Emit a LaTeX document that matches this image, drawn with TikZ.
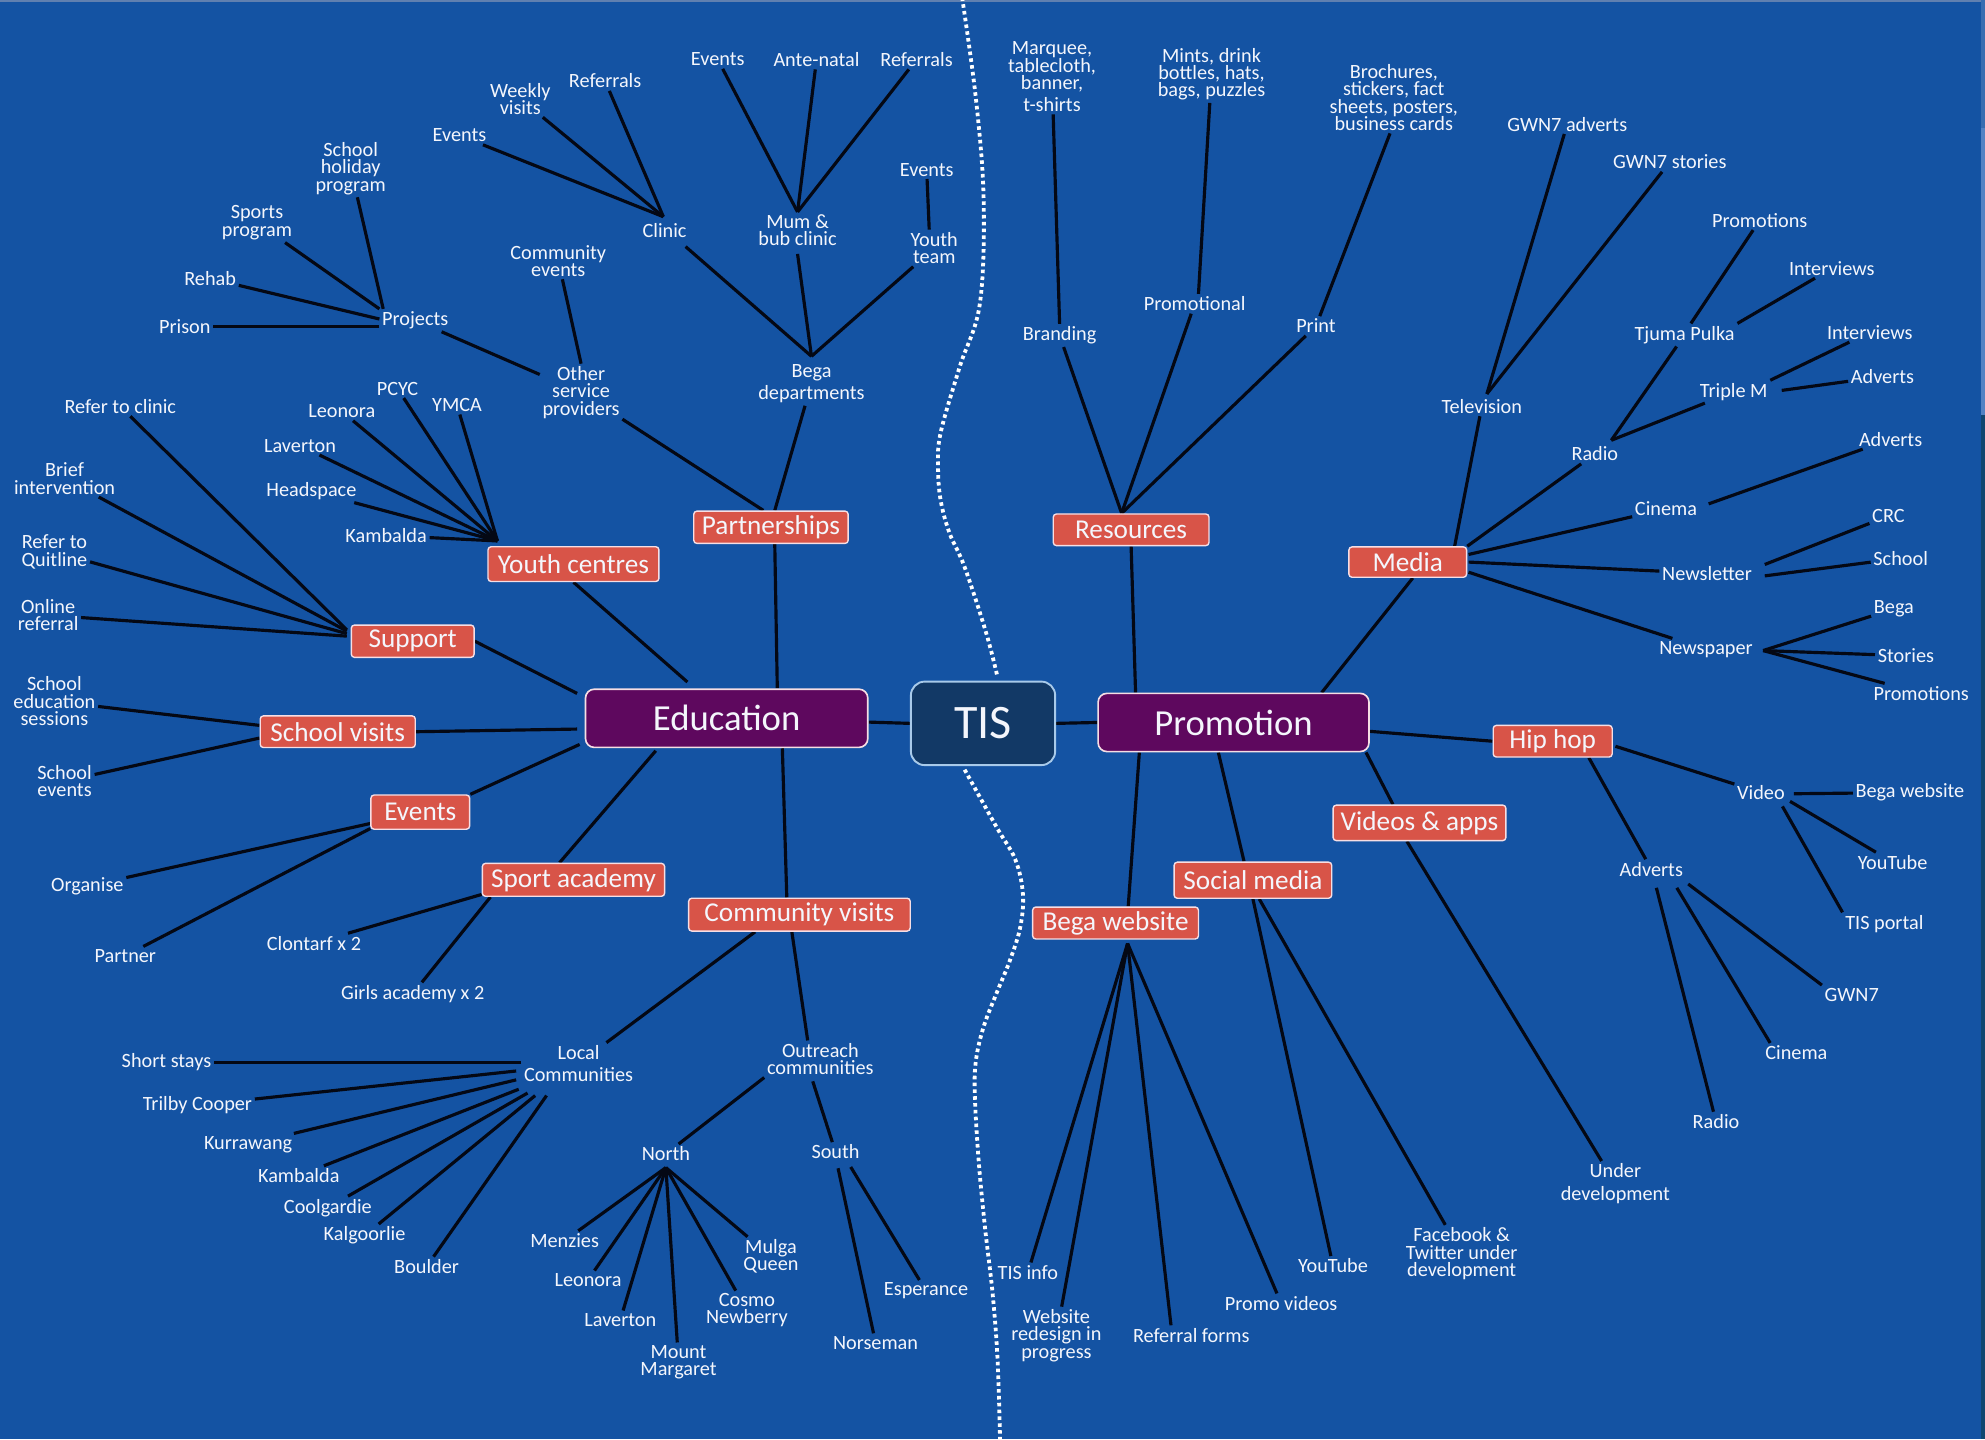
\documentclass[tikz,border=0pt]{standalone}
\usepackage{fontspec}
\setmainfont{Carlito}
\pgfdeclarelayer{back}
\pgfdeclarelayer{links}
\pgfsetlayers{back,links,main}
\definecolor{bgblue}{RGB}{20,83,163}
\definecolor{boxred}{RGB}{216,84,72}
\definecolor{boxpurple}{RGB}{94,8,94}
\definecolor{tisnavy}{RGB}{18,57,102}
\definecolor{boxedge}{RGB}{246,222,228}
\definecolor{tisedge}{RGB}{168,202,234}
\definecolor{linkcol}{RGB}{4,8,20}
\definecolor{txtwhite}{RGB}{244,246,252}
\definecolor{topline}{RGB}{96,128,176}
\definecolor{stripdark}{RGB}{16,70,112}
\definecolor{striplight}{RGB}{82,130,196}
\tikzset{
  lbl/.style={text=txtwhite, font=\fontsize{16}{13.7}\selectfont, align=center, inner sep=2pt},
  rbox/.style={fill=boxred, draw=boxedge, line width=1.1pt, rounded corners=2.5pt, text=txtwhite, font=\fontsize{21.5}{23}\selectfont, inner sep=0pt},
  pbox/.style={fill=boxpurple, draw=boxedge, line width=1.3pt, rounded corners=7pt, text=txtwhite, font=\fontsize{29}{31}\selectfont, inner sep=0pt, minimum height=46pt},
  tbox/.style={fill=tisnavy, draw=tisedge, line width=1.5pt, rounded corners=11pt, text=txtwhite, font=\fontsize{38}{40}\selectfont, inner sep=0pt, minimum width=114pt, minimum height=66pt},
  link/.style={draw=linkcol, line width=2.5pt},
  divider/.style={draw=white, line width=3pt, dash pattern=on 2.8pt off 2.6pt}
}
\begin{document}
\begin{tikzpicture}[x=1pt,y=-1pt]
\useasboundingbox (0,0) rectangle (1568,1137);
\begin{pgfonlayer}{back}
  \fill[bgblue] (0,0) rectangle (1568,1137);
  \fill[topline] (0,0) rectangle (1568,1.4);
  \fill[stripdark] (1564.8,0) rectangle (1568,1137);
  \fill[bgblue!85!white] (1564.8,0) rectangle (1568,101);
  \fill[striplight] (1564.8,101) rectangle (1568,328);
  \draw[divider] plot[smooth, tension=0.6] coordinates {(760,-2) (771,79) (777,158) (774,240) (758,290) (743,342) (741,369) (743,395) (750,421) (762,448) (779,500) (788,535)};
  \draw[divider] plot[smooth, tension=0.6] coordinates {(762,608) (787,653) (802,679) (808,706) (806,732) (798,758) (787,785) (777,811) (771,837) (770,864) (773,916) (778,969) (784,1021) (788,1074) (790,1139)};
\end{pgfonlayer}

% ---------- central boxes
\node[tbox] (tis) at (776.5,571.4) {TIS};
\node[pbox, minimum width=223pt] (edu) at (574,567.4) {Education};
\node[pbox, minimum width=214pt] (promo) at (974.4,570.7) {Promotion};

% ---------- red boxes
\node[rbox, minimum width=122pt, minimum height=25.5pt] (part) at (609,416.5) {Partnerships};
\node[rbox, minimum width=135pt, minimum height=27.5pt] (youth) at (453,445.6) {Youth centres};
\node[rbox, minimum width=97pt, minimum height=25.5pt] (support) at (326,506.5) {Support};
\node[rbox, minimum width=122.5pt, minimum height=25pt] (school) at (266.8,578) {School visits};
\node[rbox, minimum width=78pt, minimum height=27pt] (events) at (332,641.5) {Events};
\node[rbox, minimum width=144pt, minimum height=26pt] (sport) at (453,695) {Sport academy};
\node[rbox, minimum width=175pt, minimum height=26pt] (comm) at (631.5,722.5) {Community visits};
\node[rbox, minimum width=123pt, minimum height=25pt] (res) at (893.5,418.5) {Resources};
\node[rbox, minimum width=93pt, minimum height=24pt] (media) at (1112,444) {Media};
\node[rbox, minimum width=94pt, minimum height=25pt] (hiphop) at (1226.5,585.5) {Hip hop};
\node[rbox, minimum width=136.5pt, minimum height=28pt] (videos) at (1121.3,650) {Videos \& apps};
\node[rbox, minimum width=124.5pt, minimum height=28.5pt] (social) at (989.7,695.3) {Social media};
\node[rbox, minimum width=131pt, minimum height=25.2pt] (bega) at (881.2,729.1) {Bega website};

% ---------- Partnerships branch
\node[lbl] (mbEvents) at (567,47) {Events};
\node[lbl] (mbAnte) at (645,47) {Ante-natal};
\node[lbl] (mbRef) at (724,47) {Referrals};
\node[lbl] (mumbub) at (630,182) {Mum \&\\bub clinic};
\node[lbl] (ytEvents) at (732,134) {Events};
\node[lbl] (yteam) at (738,196) {Youth\\team};
\node[lbl] (begadep) at (641,303) {Bega\\[3pt]departments};
\node[lbl] (clinic) at (525,182) {Clinic};
\node[lbl] (clEvents) at (363,107) {Events};
\node[lbl] (weekly) at (411,78) {Weekly\\visits};
\node[lbl] (clRef) at (478,64) {Referrals};
\node[lbl] (commev) at (441,206) {Community\\events};
\node[lbl] (osp) at (459,310) {Other\\service\\providers};
\node[lbl] (projects) at (328,253) {Projects};
\node[lbl] (shp) at (277,133) {School\\holiday\\program};
\node[lbl] (sportsprog) at (203,176) {Sports\\program};
\node[lbl] (rehab) at (166,220) {Rehab};
\node[lbl] (prison) at (146,258) {Prison};

% ---------- Youth centres branch
\node[lbl] (ymca) at (361,320) {YMCA};
\node[lbl] (pcyc) at (314,307) {PCYC};
\node[lbl] (ycLeonora) at (270,325) {Leonora};
\node[lbl] (ycLaverton) at (237,352) {Laverton};
\node[lbl] (headspace) at (246,388) {Headspace};
\node[lbl] (ycKambalda) at (305,423) {Kambalda};

% ---------- Support / school / events / sport
\node[lbl] (referclinic) at (95,321) {Refer to clinic};
\node[lbl] (brief) at (51,378) {Brief\\intervention};
\node[lbl] (quitline) at (43,436) {Refer to\\Quitline};
\node[lbl] (online) at (38,486) {Online\\referral};
\node[lbl] (schooled) at (43,554) {School\\education\\sessions};
\node[lbl] (schoolev) at (51,617) {School\\events};
\node[lbl] (organise) at (69,700) {Organise};
\node[lbl] (partner) at (99,755) {Partner};
\node[lbl] (clontarf) at (248,745) {Clontarf x 2};
\node[lbl] (girls) at (326,785) {Girls academy x 2};

% ---------- Community visits branch
\node[lbl] (local) at (457,840) {Local\\[3.5pt]Communities};
\node[lbl] (outreach) at (648,836.5) {Outreach\\communities};
\node[lbl] (shortstays) at (131.5,839) {Short stays};
\node[lbl] (trilby) at (156,873) {Trilby Cooper};
\node[lbl] (kurrawang) at (196,904) {Kurrawang};
\node[lbl] (lcKambalda) at (236,928.7) {Kambalda};
\node[lbl] (coolgardie) at (259,954) {Coolgardie};
\node[lbl] (kalgoorlie) at (288,976) {Kalgoorlie};
\node[lbl] (boulder) at (337,1000.5) {Boulder};
\node[lbl] (north) at (526,911.5) {North};
\node[lbl] (south) at (660,910) {South};
\node[lbl] (menzies) at (446,980) {Menzies};
\node[lbl] (nLeonora) at (464.5,1011) {Leonora};
\node[lbl] (nLaverton) at (490,1042.6) {Laverton};
\node[lbl] (mountm) at (536,1076) {Mount\\Margaret};
\node[lbl] (cosmo) at (590,1035) {Cosmo\\Newberry};
\node[lbl] (mulga) at (609,992.6) {Mulga\\Queen};
\node[lbl] (esperance) at (731.5,1019.7) {Esperance};
\node[lbl] (norseman) at (691.6,1060.6) {Norseman};

% ---------- Resources branch
\node[lbl] (branding) at (837,265) {Branding};
\node[lbl] (promotional) at (943.7,240) {Promotional};
\node[lbl] (print) at (1039.5,257.5) {Print};
\node[lbl] (marquee) at (831,60.6) {Marquee,\\tablecloth,\\banner,\\[3.5pt]t-shirts};
\node[lbl] (mints) at (957,58.5) {Mints, drink\\bottles, hats,\\bags, puzzles};
\node[lbl] (brochures) at (1101,77) {Brochures,\\stickers, fact\\sheets, posters,\\business cards};

% ---------- Media branch
\node[lbl] (television) at (1170.5,321) {Television};
\node[lbl] (gwn7adv) at (1238,98) {GWN7 adverts};
\node[lbl] (gwn7st) at (1319,128) {GWN7 stories};
\node[lbl] (radio) at (1259.8,358.6) {Radio};
\node[lbl] (tjuma) at (1330.7,264.6) {Tjuma Pulka};
\node[lbl] (tjPromo) at (1390,174) {Promotions};
\node[lbl] (tjInt) at (1447,212) {Interviews};
\node[lbl] (triplem) at (1369.5,309.4) {Triple M};
\node[lbl] (tmInt) at (1477,262.5) {Interviews};
\node[lbl] (tmAdv) at (1487,297.5) {Adverts};
\node[lbl] (cinema) at (1316,402) {Cinema};
\node[lbl] (cinAdv) at (1493.4,347) {Adverts};
\node[lbl] (newsletter) at (1348.4,452.9) {Newsletter};
\node[lbl] (crc) at (1491.7,407.6) {CRC};
\node[lbl] (nlSchool) at (1501.4,441) {School};
\node[lbl] (newspaper) at (1347.6,512.9) {Newspaper};
\node[lbl] (npBega) at (1496,481) {Bega};
\node[lbl] (npStories) at (1505.5,518) {Stories};
\node[lbl] (npPromo) at (1517.6,547.6) {Promotions};

% ---------- Hip hop branch
\node[lbl] (video) at (1391,626) {Video};
\node[lbl] (vBega) at (1508.7,626) {Bega website};
\node[lbl] (vYoutube) at (1495,681) {YouTube};
\node[lbl] (tisportal) at (1488.5,729.7) {TIS portal};
\node[lbl] (hhAdverts) at (1304.4,686.5) {Adverts};
\node[lbl] (gwn7) at (1462.7,785.6) {GWN7};
\node[lbl] (hhCinema) at (1419,831.6) {Cinema};
\node[lbl] (hhRadio) at (1355.5,886) {Radio};

% ---------- Videos, social, website
\node[lbl] (underdev) at (1276,935) {Under\\[4pt]development};
\node[lbl] (smYoutube) at (1053,1000) {YouTube};
\node[lbl] (facebook) at (1154.6,990.3) {Facebook \&\\Twitter under\\development};
\node[lbl] (tisinfo) at (812,1005) {TIS info};
\node[lbl] (redesign) at (834.5,1055) {Website\\redesign in\\progress};
\node[lbl] (refforms) at (941,1054.7) {Referral forms};
\node[lbl] (promovid) at (1012,1029.5) {Promo videos};

\begin{pgfonlayer}{links}
% central
\draw[link] ([yshift=-3pt]edu.east) -- (tis.west);
\draw[link] (tis.east) -- (promo.west);
% education main branches
\draw[link] ([xshift=40pt]edu.north) -- ([xshift=3pt]part.south);
\draw[link] ([xshift=-31pt,yshift=5pt]edu.north) -- (youth.south);
\draw[link] ([xshift=-6pt,yshift=-4pt]edu.north west) -- (support.east);
\draw[link] ([xshift=-6pt,yshift=-8.5pt]edu.west) -- (school.east);
\draw[link] ([xshift=-4pt,yshift=3pt]edu.south west) -- (events.north east);
\draw[link] ([xshift=-56pt,yshift=-2pt]edu.south) -- ([xshift=-11pt]sport.north);
\draw[link] ([xshift=44pt]edu.south) -- ([xshift=-10pt]comm.north);
% partnerships
\draw[link] ([xshift=3pt]part.north) -- (begadep);
\draw[link] ([xshift=-6pt]part.north) -- (osp);
\draw[link] ([yshift=4pt]begadep.north) -- ([yshift=-4pt]mumbub.south);
\draw[link] ([yshift=4pt]begadep.north) -- ([xshift=-3pt,yshift=-5pt]clinic.south east);
\draw[link] ([yshift=4pt]begadep.north) -- (yteam);
\draw[link] (mumbub.north) -- (mbEvents);
\draw[link] (mumbub.north) -- (mbAnte);
\draw[link] (mumbub.north) -- (mbRef);
\draw[link] ([xshift=-4pt]yteam.north) -- (ytEvents);
\draw[link] ([xshift=-1pt,yshift=3pt]clinic.north) -- (clEvents);
\draw[link] ([xshift=-1pt,yshift=3pt]clinic.north) -- (weekly);
\draw[link] ([xshift=-1pt,yshift=3pt]clinic.north) -- (clRef);
\draw[link] (osp.north) -- (commev);
\draw[link] (osp) -- (projects);
\draw[link] ([xshift=3pt,yshift=9pt]projects.west) -- (shp);
\draw[link] ([yshift=9pt]projects.west) -- (sportsprog);
\draw[link] ([yshift=1pt]projects.west) -- (rehab);
\draw[link] ([yshift=-5pt]projects.west) -- (prison);
% youth centres
\draw[link] ([xshift=8pt,yshift=4pt]youth.north west) -- (ymca);
\draw[link] ([xshift=8pt,yshift=4pt]youth.north west) -- (pcyc);
\draw[link] ([xshift=8pt,yshift=4pt]youth.north west) -- (ycLeonora);
\draw[link] ([xshift=8pt,yshift=4pt]youth.north west) -- (ycLaverton);
\draw[link] ([xshift=8pt,yshift=4pt]youth.north west) -- (headspace);
\draw[link] ([xshift=8pt,yshift=4pt]youth.north west) -- (ycKambalda);
% support
\draw[link] ([xshift=-3pt,yshift=9pt]support.west) -- (referclinic);
\draw[link] ([xshift=-3pt,yshift=8pt]support.west) -- (brief);
\draw[link] ([xshift=-3pt,yshift=6pt]support.west) -- (quitline);
\draw[link] ([xshift=-3pt,yshift=4pt]support.west) -- (online);
% school visits
\draw[link] ([yshift=5pt]school.west) -- (schooled);
\draw[link] ([yshift=-5pt]school.west) -- (schoolev);
% events
\draw[link] ([yshift=-9pt]events.west) -- (organise);
\draw[link] ([yshift=-13pt]events.west) -- (partner);
% sport
\draw[link] ([yshift=2pt]sport.south west) -- (clontarf);
\draw[link] ([xshift=7pt]sport.south west) -- (girls);
% community visits
\draw[link] ([xshift=-35pt]comm.south) -- (local);
\draw[link] ([xshift=-6pt]comm.south) -- ([xshift=-10pt]outreach.north);
\draw[link] ([yshift=1pt]local.west) -- (shortstays);
\draw[link] ([xshift=-4pt,yshift=-6pt]local.west) -- (trilby);
\draw[link] ([xshift=-4pt,yshift=-13pt]local.west) -- (kurrawang);
\draw[link] ([xshift=-2pt,yshift=-4pt]local.south west) -- (lcKambalda);
\draw[link] ([xshift=5pt,yshift=-7pt]local.south west) -- (coolgardie);
\draw[link] ([xshift=11pt,yshift=-9pt]local.south west) -- (kalgoorlie);
\draw[link] ([xshift=20pt,yshift=-9pt]local.south west) -- (boulder);
\draw[link] (outreach.south west) -- (north);
\draw[link] ([xshift=-6pt,yshift=-3pt]outreach.south) -- (south);
\draw[link] ([yshift=-3pt]north.south) -- (menzies);
\draw[link] ([yshift=-3pt]north.south) -- (nLeonora);
\draw[link] ([yshift=-3pt]north.south) -- (nLaverton);
\draw[link] ([yshift=-3pt]north.south) -- (mountm);
\draw[link] ([yshift=-3pt]north.south) -- (cosmo);
\draw[link] ([yshift=-3pt]north.south) -- (mulga);
\draw[link] ([xshift=2pt,yshift=-5pt]south.south) -- (norseman);
\draw[link] ([xshift=12pt,yshift=-4pt]south.south) -- (esperance);
% promotion main branches
\draw[link] ([xshift=-77.4pt]promo.north) -- (res.south);
\draw[link] ([xshift=-38pt]promo.north east) -- ([xshift=4pt]media.south);
\draw[link] ([yshift=-7pt]promo.east) -- (hiphop.west);
\draw[link] ([xshift=-3pt]promo.south east) -- ([xshift=-21pt]videos.north);
\draw[link] ([xshift=-12pt]promo.south) -- ([xshift=-7pt]social.north);
\draw[link] ([xshift=-74.4pt]promo.south) -- ([xshift=10pt]bega.north);
% resources
\draw[link] ([xshift=-7.5pt]res.north) -- (branding);
\draw[link] ([xshift=-7.5pt]res.north) -- (promotional);
\draw[link] ([xshift=-7.5pt]res.north) -- (print);
\draw[link] (branding.north) -- (marquee);
\draw[link] ([xshift=3pt]promotional.north) -- (mints);
\draw[link] ([xshift=3pt]print.north) -- ([xshift=-3pt]brochures.south);
% media
\draw[link] ([xshift=-10pt]media.north east) -- (television);
\draw[link] (media.north east) -- (radio);
\draw[link] ([xshift=1pt,yshift=6pt]media.east) -- (cinema);
\draw[link] ([xshift=1pt]media.east) -- (newsletter);
\draw[link] ([xshift=1pt,yshift=-8pt]media.east) -- (newspaper);
\draw[link] ([xshift=4pt,yshift=2pt]television.north) -- (gwn7adv);
\draw[link] ([xshift=4pt,yshift=2pt]television.north) -- (gwn7st);
\draw[link] ([xshift=13pt,yshift=3pt]radio.north) -- (tjuma);
\draw[link] ([xshift=13pt,yshift=3pt]radio.north) -- (triplem);
\draw[link] ([xshift=5pt]tjuma.north) -- (tjPromo);
\draw[link] (tjuma.north east) -- (tjInt);
\draw[link] (triplem.north east) -- (tmInt);
\draw[link] ([xshift=9pt,yshift=1pt]triplem.east) -- (tmAdv);
\draw[link] ([xshift=7pt,yshift=4pt]cinema.east) -- (cinAdv);
\draw[link] ([xshift=8pt,yshift=7pt]newsletter.east) -- (crc);
\draw[link] ([xshift=8pt,yshift=-2pt]newsletter.east) -- (nlSchool);
\draw[link] ([xshift=6pt,yshift=-1pt]newspaper.east) -- (npBega);
\draw[link] ([xshift=6pt,yshift=-1pt]newspaper.east) -- (npStories);
\draw[link] ([xshift=6pt,yshift=-1pt]newspaper.east) -- (npPromo);
% hip hop
\draw[link] ([xshift=2pt,yshift=-4pt]hiphop.east) -- (video);
\draw[link] ([xshift=-19pt]hiphop.south east) -- (hhAdverts);
\draw[link] ([xshift=5pt,yshift=-1pt]video.east) -- (vBega);
\draw[link] ([xshift=2pt,yshift=-7pt]video.east) -- (vYoutube);
\draw[link] ([xshift=-4pt,yshift=-11pt]video.east) -- (tisportal.north west);
\draw[link] ([xshift=2pt,yshift=-4pt]hhAdverts.south east) -- (gwn7.north west);
\draw[link] ([xshift=-7pt,yshift=-7pt]hhAdverts.south east) -- ([xshift=6pt]hhCinema.north west);
\draw[link] ([xshift=4pt,yshift=-7pt]hhAdverts.south) -- (hhRadio);
% videos, social, website
\draw[link] ([xshift=-10pt]videos.south) -- (underdev);
\draw[link] (social.south) -- (smYoutube);
\draw[link] ([xshift=5pt]social.south) -- (facebook);
\draw[link] ([xshift=9.5pt,yshift=-3pt]bega.south) -- (tisinfo);
\draw[link] ([xshift=9.5pt,yshift=-3pt]bega.south) -- (redesign);
\draw[link] ([xshift=9.5pt,yshift=-3pt]bega.south) -- ([xshift=-16pt]refforms.north);
\draw[link] ([xshift=9.5pt,yshift=-3pt]bega.south) -- (promovid);
\end{pgfonlayer}
\end{tikzpicture}
\end{document}
